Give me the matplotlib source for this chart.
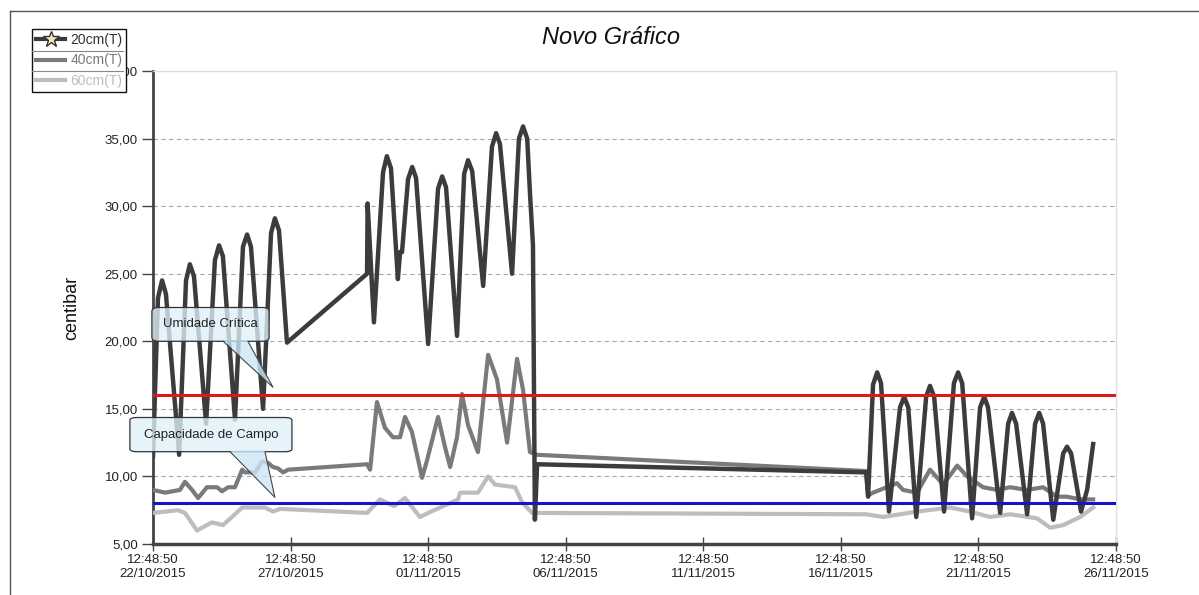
import matplotlib
matplotlib.use("Agg")
import matplotlib.pyplot as plt
from matplotlib.lines import Line2D
from matplotlib.patches import FancyBboxPatch, Polygon
from datetime import datetime, timedelta

plt.rcParams['font.family'] = ['Liberation Sans', 'DejaVu Sans']

# ---- dados (dias desde 22/10/2015 12:48:50) ----
t0 = datetime(2015, 10, 22, 12, 48, 50)

dias_20 = [0.00, 0.18, 0.33, 0.47, 0.95, 1.20, 1.34, 1.49, 1.93, 2.25,
           2.40, 2.54, 2.98, 3.27, 3.42, 3.56, 4.00, 4.29, 4.43, 4.58,
           4.87, 7.78, 7.80, 8.03, 8.36, 8.50, 8.65, 8.90, 8.98, 9.05,
           9.27, 9.42, 9.56, 10.00, 10.36, 10.51, 10.65, 11.05, 11.31, 11.45,
           11.60, 12.00, 12.32, 12.47, 12.61, 13.05, 13.30, 13.45, 13.60, 13.70,
           13.81, 13.88, 13.96, 25.92, 25.99, 26.17, 26.32, 26.46, 26.75, 27.15,
           27.30, 27.45, 27.74, 28.10, 28.24, 28.39, 28.75, 29.11, 29.26, 29.41,
           29.77, 30.06, 30.21, 30.35, 30.79, 31.08, 31.22, 31.37, 31.77, 32.06,
           32.21, 32.35, 32.72, 33.08, 33.22, 33.37, 33.73, 33.95, 34.17]
cb_20 = [11.5, 23.2, 24.5, 23.5, 11.6, 24.5, 25.7, 24.8, 13.9, 26.0,
         27.1, 26.3, 14.2, 27.0, 27.9, 27.0, 15.0, 28.0, 29.1, 28.2,
         19.9, 25.0, 30.2, 21.4, 32.5, 33.7, 32.8, 24.6, 26.6, 26.6,
         32.0, 32.9, 32.1, 19.8, 31.3, 32.2, 31.4, 20.4, 32.4, 33.4,
         32.6, 24.1, 34.4, 35.4, 34.6, 25.0, 35.0, 35.9, 35.0, 31.0,
         27.1, 6.8, 10.9, 10.3, 8.5, 16.8, 17.7, 16.9, 7.4, 15.1,
         15.9, 15.1, 7.0, 15.9, 16.7, 15.9, 7.4, 16.9, 17.7, 16.9,
         6.9, 15.1, 15.9, 15.1, 7.3, 13.9, 14.7, 13.9, 7.2, 13.9,
         14.7, 13.9, 6.8, 11.7, 12.2, 11.7, 7.4, 9.0, 12.4]

dias_40 = [0.00, 0.44, 0.98, 1.16, 1.42, 1.64, 1.96, 2.33, 2.51, 2.73,
           2.98, 3.24, 3.34, 3.71, 3.96, 4.18, 4.36, 4.54, 4.73, 4.91,
           7.78, 7.89, 8.14, 8.43, 8.72, 8.98, 9.16, 9.41, 9.78, 9.96,
           10.36, 10.61, 10.80, 11.05, 11.23, 11.45, 11.81, 12.18, 12.50, 12.87,
           13.23, 13.45, 13.70, 13.96, 25.92, 25.99, 26.17, 27.04, 27.26, 27.77,
           28.24, 28.72, 29.23, 29.59, 30.17, 30.68, 31.15, 31.77, 32.35, 32.86,
           33.22, 33.70, 34.17]
cb_40 = [9.0, 8.8, 9.0, 9.6, 9.0, 8.4, 9.2, 9.2, 8.9, 9.2,
         9.2, 10.5, 10.3, 10.3, 11.1, 11.0, 10.7, 10.6, 10.3, 10.5,
         10.9, 10.5, 15.5, 13.6, 12.9, 12.9, 14.4, 13.3, 9.9, 11.2,
         14.4, 12.2, 10.7, 12.9, 16.1, 13.8, 11.8, 19.0, 17.2, 12.5,
         18.7, 16.4, 11.8, 11.6, 10.4, 8.6, 8.8, 9.5, 9.0, 8.8,
         10.5, 9.4, 10.8, 10.0, 9.2, 9.0, 9.2, 9.0, 9.2, 8.5,
         8.5, 8.3, 8.3]

dias_60 = [0.00, 0.91, 1.16, 1.60, 2.14, 2.54, 2.87, 3.24, 4.07, 4.36,
           4.62, 7.78, 8.25, 8.76, 9.16, 9.70, 10.00, 11.09, 11.16, 11.81,
           12.18, 12.43, 13.16, 13.41, 13.78, 25.92, 26.54, 27.77, 28.97, 29.70,
           30.42, 31.15, 32.13, 32.61, 33.08, 33.70, 34.17]
cb_60 = [7.3, 7.5, 7.3, 6.0, 6.6, 6.4, 7.0, 7.7, 7.7, 7.4,
         7.6, 7.3, 8.3, 7.8, 8.4, 7.0, 7.3, 8.3, 8.8, 8.8,
         10.0, 9.4, 9.2, 8.1, 7.3, 7.2, 7.0, 7.4, 7.7, 7.4,
         7.0, 7.2, 6.9, 6.2, 6.4, 7.0, 7.7]

umidade_critica = 16.0
capacidade_campo = 8.0

y_ticks = [5, 10, 15, 20, 25, 30, 35, 40]
x_ticks = [0, 5, 10, 15, 20, 25, 30, 35]
x_labels = [(t0 + timedelta(days=d)).strftime('%H:%M:%S\n%d/%m/%Y') for d in x_ticks]

# balões: (texto, caixa x0, x1, y0, y1, base da ponta x0, x1, ponta x, y)
baloes = [
    ('Umidade Crítica', -0.04, 4.22, 20.0, 22.5, 2.55, 3.45, 4.36, 16.6),
    ('Capacidade de Campo', -0.84, 5.05, 11.83, 14.36, 2.80, 4.07, 4.43, 8.45),
]

# ========== figura ==========
fig = plt.figure(figsize=(11.99, 5.95), dpi=100)
ax = fig.add_axes([153 / 1199, 1 - 544 / 595, (1116 - 153) / 1199, (544 - 71) / 595])

ax.plot(dias_60, cb_60, color='#bdbdbd', lw=3, solid_joinstyle='round', zorder=3)
ax.plot(dias_40, cb_40, color='#7a7a7a', lw=3, solid_joinstyle='round', zorder=4)
ax.plot(dias_20, cb_20, color='#3c3c3c', lw=3.2, solid_joinstyle='round', zorder=5)

ax.axhline(umidade_critica, color='#e01818', lw=2.2, zorder=6)
ax.axhline(capacidade_campo, color='#1414c8', lw=2.2, zorder=6)

ax.set_xlim(0, 35)
ax.set_ylim(5, 40)
ax.set_yticks(y_ticks)
ax.set_yticklabels([('%.2f' % v).replace('.', ',') for v in y_ticks])
ax.set_xticks(x_ticks)
ax.set_xticklabels(x_labels)

for v in y_ticks[1:-1]:
    ax.axhline(v, color='#aaaaaa', lw=0.8, ls=(0, (4, 3)), zorder=1)

for s in ['top', 'right']:
    ax.spines[s].set_color('#dddddd')
    ax.spines[s].set_linewidth(1)
ax.spines['left'].set_color('#444444')
ax.spines['left'].set_linewidth(2)
ax.spines['bottom'].set_color('#444444')
ax.spines['bottom'].set_linewidth(2.5)

ax.tick_params(axis='y', direction='out', length=8, width=1, color='#444444',
               labelsize=9.5, labelcolor='#222222', pad=3)
ax.tick_params(axis='x', direction='inout', length=10, width=1, color='#444444',
               labelsize=9.5, labelcolor='#222222', pad=2)

fig.text(72 / 1199, 1 - 308 / 595, 'centibar', rotation=90, ha='center', va='center',
         fontsize=13, color='#111111')
fig.text(611 / 1199, 1 - 38 / 595, 'Novo Gráfico', ha='center', va='center',
         fontsize=17, style='italic', color='#111111')

# legenda
handles = [
    Line2D([], [], color='#3c3c3c', lw=3, marker='*', markersize=12,
           markerfacecolor='#efe6c0', markeredgecolor='#333333'),
    Line2D([], [], color='#7a7a7a', lw=3),
    Line2D([], [], color='#bdbdbd', lw=3),
]
leg = fig.legend(handles, ['20cm(T)', '40cm(T)', '60cm(T)'], loc='upper left',
                 bbox_to_anchor=(32 / 1199, 1 - 29 / 595), fontsize=10,
                 frameon=True, fancybox=False, edgecolor='#111111', framealpha=1,
                 handlelength=2.1, handletextpad=0.35, labelspacing=0.45,
                 borderpad=0.3, borderaxespad=0)
leg.get_frame().set_linewidth(1)
leg.set_zorder(20)
for txt, c in zip(leg.get_texts(), ['#333333', '#7a7a7a', '#bdbdbd']):
    txt.set_color(c)
for yy in [51, 71]:
    fig.add_artist(Line2D([32 / 1199, 123 / 1199], [1 - yy / 595, 1 - yy / 595],
                          color='#888888', lw=0.8, zorder=21))

# balões de anotação (semi-transparentes, como no original)
for texto, bx0, bx1, by0, by1, px0, px1, tx, ty in baloes:
    caixa = FancyBboxPatch((bx0, by0), bx1 - bx0, by1 - by0,
                           boxstyle='round,pad=0,rounding_size=0.25',
                           mutation_aspect=(by1 - by0) / (bx1 - bx0) * 1.9,
                           fc=(0.88, 0.94, 0.98, 0.78), ec='#333333', lw=0.9,
                           zorder=10, clip_on=False)
    ax.add_patch(caixa)
    ponta = Polygon([(px0, by0 + 0.08), (px1, by0 + 0.08), (tx, ty)], closed=True,
                    fc=(0.80, 0.90, 0.97, 0.8), ec='none', zorder=11, clip_on=False)
    ax.add_patch(ponta)
    ax.plot([px0, tx, px1], [by0, ty, by0], color='#444444', lw=0.8, zorder=12,
            clip_on=False)
    ax.text((bx0 + bx1) / 2, (by0 + by1) / 2, texto, ha='center', va='center',
            fontsize=9.5, color='#222222', zorder=13)

# moldura externa
fig.add_artist(Line2D([10 / 1199, 10 / 1199], [0, 1 - 11 / 595], color='#555555', lw=1))
fig.add_artist(Line2D([10 / 1199, 1], [1 - 11 / 595, 1 - 11 / 595], color='#555555', lw=1))

fig.savefig('out.png', dpi=100)
